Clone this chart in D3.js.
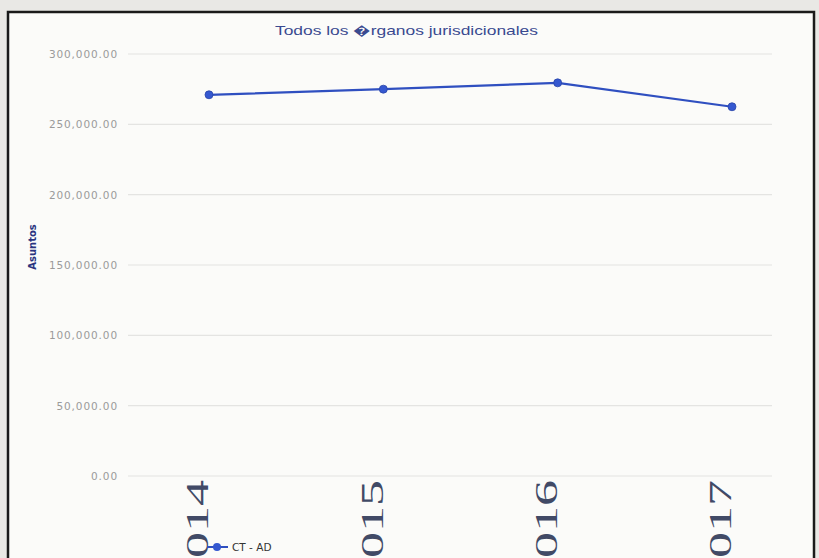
<!DOCTYPE html>
<html><head><meta charset="utf-8">
<script src="https://cdn.jsdelivr.net/npm/d3@7"></script>
<style>html,body{margin:0;padding:0;background:#ecebe8;}svg{display:block;}</style>
</head><body>
<script>
const categories = ["2014", "2015", "2016", "2017"];
const seriesName = "CT - AD";
const values = [271000, 275000, 279500, 262500];
const yTicks = [0, 50000, 100000, 150000, 200000, 250000, 300000];
const title = "Todos los \uFFFDrganos jurisdicionales";
const yTitle = "Asuntos";

const W = 819, H = 558;
const svg = d3.select("body").append("svg").attr("width", W).attr("height", H);

// frame / paper
svg.append("rect").attr("x", 0).attr("y", 0).attr("width", W).attr("height", H).attr("fill", "#e9e8e5");
svg.append("rect").attr("x", 8).attr("y", 12).attr("width", 806).attr("height", 560)
  .attr("fill", "#fbfbf9").attr("stroke", "#1a1a1a").attr("stroke-width", 2.5);

const x = d3.scalePoint().domain(categories).range([209, 732]);
const y = d3.scaleLinear().domain([0, 300000]).range([476, 54]);

// gridlines
svg.append("g").selectAll("line").data(yTicks).join("line")
  .attr("x1", 128).attr("x2", 772).attr("y1", d => y(d)).attr("y2", d => y(d))
  .attr("stroke", "#e4e4e2").attr("stroke-width", 1.2);

// y labels
const yAxis = d3.axisLeft(y).tickValues(yTicks).tickSize(0).tickPadding(0)
  .tickFormat(d3.format(",.2f"));
const gy = svg.append("g").attr("transform", "translate(118,0)").call(yAxis);
gy.select(".domain").remove();
gy.selectAll("text").attr("font-family", "DejaVu Sans, sans-serif").attr("font-size", 10.5)
  .attr("letter-spacing", "0.9px").attr("fill", "#9a9a9a").attr("dy", "0.32em");

// title
svg.append("text").attr("x", 275).attr("y", 35).attr("textLength", 263).attr("lengthAdjust", "spacingAndGlyphs")
  .attr("font-family", "Liberation Sans Narrow, Liberation Sans, sans-serif").attr("font-size", 13)
  .attr("fill", "#3a4a90").text(title);

// y title
svg.append("text").attr("transform", "translate(36,247) rotate(-90)").attr("text-anchor", "middle")
  .attr("font-family", "DejaVu Sans, sans-serif").attr("font-weight", "bold").attr("font-size", 10)
  .attr("fill", "#2a3480").text(yTitle);

// x axis labels (large rotated, cut by the bottom edge as in the photo)
const xAxis = d3.axisBottom(x).tickSize(0).tickPadding(0);
const gx = svg.append("g").attr("transform", "translate(0,480)").call(xAxis);
gx.select(".domain").remove();
gx.selectAll(".tick").attr("transform", d => `translate(${x(d) - 12},0)`);
gx.selectAll("text").attr("transform", "rotate(-90)")
  .attr("text-anchor", "end").attr("dy", "0.35em").attr("x", 0).attr("y", 0)
  .attr("textLength", 104).attr("lengthAdjust", "spacingAndGlyphs")
  .attr("font-family", "Liberation Serif, DejaVu Serif, serif").attr("font-size", 32)
  .attr("fill", "#414a66");

// line
const line = d3.line().x((d, i) => x(categories[i])).y(d => y(d));
svg.append("path").datum(values).attr("d", line).attr("fill", "none")
  .attr("stroke", "#2f4fc0").attr("stroke-width", 2.2);
svg.selectAll(".pt").data(values).join("circle").attr("class", "pt")
  .attr("cx", (d, i) => x(categories[i])).attr("cy", d => y(d)).attr("r", 4)
  .attr("fill", "#3558d0").attr("stroke", "#2a45a8").attr("stroke-width", 0.8);

// legend
const lg = svg.append("g").attr("transform", "translate(0,547)");
lg.append("line").attr("x1", 207).attr("x2", 228).attr("y1", 0).attr("y2", 0)
  .attr("stroke", "#2f4fc0").attr("stroke-width", 2);
lg.append("circle").attr("cx", 217).attr("cy", 0).attr("r", 4).attr("fill", "#3558d0");
lg.append("text").attr("x", 232).attr("y", 4).attr("font-family", "DejaVu Sans, sans-serif")
  .attr("font-size", 10.5).attr("fill", "#333").text(seriesName);
</script>
</body></html>
